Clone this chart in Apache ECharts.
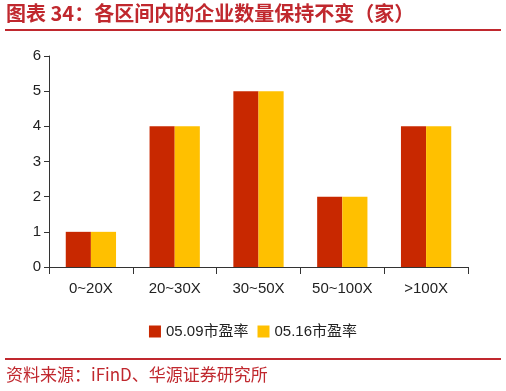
<!DOCTYPE html>
<html><head><meta charset="utf-8">
<script src="https://cdn.jsdelivr.net/npm/echarts@6/dist/echarts.min.js"></script>
<style>html,body{margin:0;padding:0;background:#fff}#c{width:506px;height:391px}</style>
</head><body><div id="c"></div>
<script>
var categories = ['0~20X', '20~30X', '30~50X', '50~100X', '>100X'];
var series0509 = [1, 4, 5, 2, 4];
var series0516 = [1, 4, 5, 2, 4];
var seriesNames = ['05.09市盈率', '05.16市盈率'];
var yTicks = [0, 1, 2, 3, 4, 5, 6];

var chart = echarts.init(document.getElementById('c'));
var titleColor = '#C0282E';
var latin = '"Liberation Sans", Arial, "Noto Sans CJK SC", sans-serif';
chart.setOption({
  animation: false,
  textStyle: {fontFamily: latin},
  grid: {left: 49, right: 38, top: 56, bottom: 124},
  legend: {
    data: seriesNames, top: 319, left: 'center', itemWidth: 12, itemHeight: 12, itemGap: 9,
    icon: 'rect',
    textStyle: {fontSize: 15, color: '#222', fontFamily: latin}
  },
  xAxis: {
    type: 'category', data: categories,
    axisLine: {lineStyle: {color: '#333', width: 1}},
    axisTick: {show: true, length: 7, lineStyle: {color: '#333'}},
    axisLabel: {fontSize: 15, color: '#222', margin: 14}
  },
  yAxis: {
    type: 'value', min: yTicks[0], max: yTicks[yTicks.length - 1], interval: 1,
    axisLine: {show: true, lineStyle: {color: '#333', width: 1}},
    axisTick: {show: true, length: 5, lineStyle: {color: '#333'}},
    axisLabel: {fontSize: 15, color: '#222', margin: 8},
    splitLine: {show: false}
  },
  series: [
    {name: seriesNames[0], type: 'bar', data: series0509, barGap: '0%', barCategoryGap: '40%', itemStyle: {color: '#C82800'}},
    {name: seriesNames[1], type: 'bar', data: series0516, itemStyle: {color: '#FFC000'}}
  ],
  graphic: [
    {type: 'text', left: 6, top: 3, style: {text: '图表 34：各区间内的企业数量保持不变（家）', fill: titleColor, font: 'bold 20px "Noto Sans CJK SC", sans-serif'}},
    {type: 'rect', shape: {x: 5, y: 29, width: 496, height: 2}, style: {fill: titleColor}},
    {type: 'rect', shape: {x: 5, y: 358, width: 496, height: 2}, style: {fill: titleColor}},
    {type: 'text', left: 6, top: 366, style: {text: '资料来源：iFinD、华源证券研究所', fill: titleColor, font: '17px "Noto Sans CJK SC", sans-serif'}}
  ]
});
</script></body></html>
